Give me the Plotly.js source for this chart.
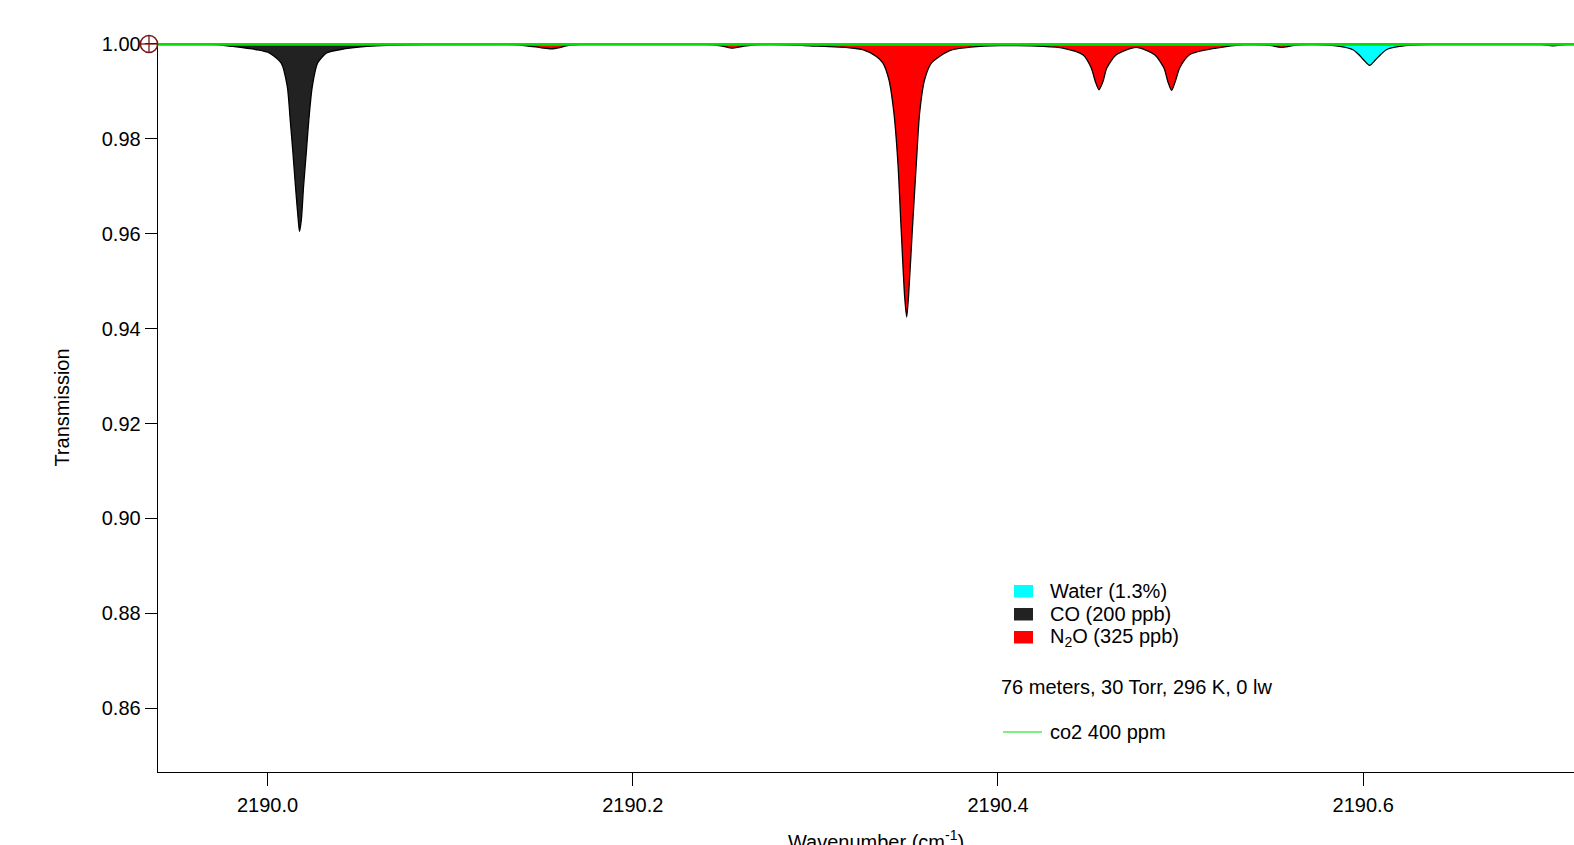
<!DOCTYPE html>
<html>
<head>
<meta charset="utf-8">
<script src="https://cdn.plot.ly/plotly-3.0.1.min.js"></script>
<style>
html, body { margin:0; padding:0; overflow:hidden; background:#fff; }
#chart { width:1600px; height:870px; }
</style>
</head>
<body>
<div id="chart"></div>
<script>
// ---- Data (wavenumber in cm^-1, transmission) ----
const coX = [2189.9400, 2189.9700, 2189.9808, 2189.9940, 2190.0011, 2190.0075, 2190.0108, 2190.0124,
  2190.0139, 2190.0153, 2190.0168, 2190.0175, 2190.0185, 2190.0197, 2190.0212, 2190.0226, 2190.0245,
  2190.0274, 2190.0323, 2190.0394, 2190.0542, 2190.0850, 2190.6950, 2190.7039, 2190.7130, 2190.7264];
const coY = [1.0, 0.99990, 0.99947, 0.99878, 0.99808, 0.99597, 0.99104, 0.98403,
  0.97707, 0.96991, 0.96296, 0.96048, 0.96296, 0.96991, 0.97707, 0.98403, 0.99104,
  0.99597, 0.99808, 0.99878, 0.99947, 0.99985, 0.99995, 0.99962, 0.99995, 1.0];

const n2oX = [2189.9400, 2190.1300, 2190.1418, 2190.1500, 2190.1554, 2190.1600, 2190.1637, 2190.1750,
  2190.2400, 2190.2481, 2190.2539, 2190.2623, 2190.2750, 2190.2968, 2190.3187, 2190.3259, 2190.3334,
  2190.3370, 2190.3403, 2190.3430, 2190.3452, 2190.3470, 2190.3489, 2190.3500, 2190.3510, 2190.3531,
  2190.3553, 2190.3571, 2190.3598, 2190.3635, 2190.3680, 2190.3751, 2190.3850, 2190.4009, 2190.4250,
  2190.4355, 2190.4465, 2190.4511, 2190.4533, 2190.4553, 2190.4575, 2190.4596, 2190.4648, 2190.4757,
  2190.4858, 2190.4909, 2190.4930, 2190.4951, 2190.4971, 2190.4995, 2190.5049, 2190.5196, 2190.5350,
  2190.5488, 2190.5551, 2190.5625, 2190.5750, 2190.7264];
const n2oY = [1.0, 0.99995, 0.99962, 0.99920, 0.99899, 0.99925, 0.99962, 0.99995,
  0.99993, 0.99962, 0.99914, 0.99962, 0.99992, 0.99960, 0.99920, 0.99878, 0.99737,
  0.99597, 0.99246, 0.98550, 0.97496, 0.96084, 0.94672, 0.94244, 0.94672, 0.96084,
  0.97496, 0.98550, 0.99246, 0.99597, 0.99737, 0.99878, 0.99935, 0.99965, 0.99950,
  0.99914, 0.99772, 0.99492, 0.99210, 0.99035, 0.99210, 0.99492, 0.99772, 0.99926,
  0.99772, 0.99492, 0.99210, 0.99020, 0.99210, 0.99492, 0.99772, 0.99914, 0.99985,
  0.99970, 0.99926, 0.99970, 0.99995, 1.0];

const h2oX = [2189.9400, 2190.5700, 2190.5871, 2190.5944, 2190.5977, 2190.6002, 2190.6035, 2190.6068,
  2190.6095, 2190.6127, 2190.6199, 2190.6400, 2190.7264];
const h2oY = [1.0, 0.99995, 0.99947, 0.99878, 0.99772, 0.99667, 0.99547, 0.99667,
  0.99772, 0.99878, 0.99947, 0.99995, 1.0];

const co2X = [2189.9400, 2190.7264];
const co2Y = [0.99990, 0.99990];

const yTicks = [0.86, 0.88, 0.90, 0.92, 0.94, 0.96, 0.98, 1.00];
const xTicks = [2190.0, 2190.2, 2190.4, 2190.6];

const legendNames = ['Water (1.3%)', 'CO (200 ppb)', 'N<sub>2</sub>O (325 ppb)'];
const legendColors = ['#00ffff', '#222222', '#ff0000'];
const infoText = '76 meters, 30 Torr, 296 K, 0 lw';
const co2Name = 'co2 400 ppm';

// ---- Traces ----
const FONT = 'Liberation Sans, Arial, Helvetica, sans-serif';
const FS = 20;
function fillTrace(x, y, color) {
  return {
    x: x, y: y, type: 'scatter', mode: 'lines', fill: 'toself', fillcolor: color,
    line: { color: '#000000', width: 1.3, shape: 'spline', smoothing: 0.7 },
    hoverinfo: 'x+y', showlegend: false
  };
}
const traces = [
  fillTrace(n2oX, n2oY, legendColors[2]),
  fillTrace(coX, coY, legendColors[1]),
  fillTrace(h2oX, h2oY, legendColors[0]),
  { x: co2X, y: co2Y, type: 'scatter', mode: 'lines', line: { color: '#00e000', width: 2.6 }, showlegend: false }
];

// ---- Legend and cursor (drawn as annotations/shapes) ----
const W = 1436, H = 729, L = 158, B = 772; // plot area in px, for paper conversion
const px = v => (v - L) / W;
const py = v => (B - v) / H;
const shapes = [];
const annotations = [];
const rowY = [591, 614, 637];
for (let i = 0; i < 3; i++) {
  shapes.push({ type: 'rect', xref: 'paper', yref: 'paper', x0: px(1014), x1: px(1033),
    y0: py(rowY[i] - 6), y1: py(rowY[i] + 6.5), fillcolor: legendColors[i], line: { width: 0 } });
  annotations.push({ xref: 'paper', yref: 'paper', x: px(1048), y: py(rowY[i]), text: legendNames[i],
    showarrow: false, xanchor: 'left', yanchor: 'middle', font: { family: FONT, size: FS, color: '#000' } });
}
annotations.push({ xref: 'paper', yref: 'paper', x: px(999), y: py(687), text: infoText,
  showarrow: false, xanchor: 'left', yanchor: 'middle', font: { family: FONT, size: FS, color: '#000' } });
shapes.push({ type: 'line', xref: 'paper', yref: 'paper', x0: px(1003), x1: px(1042), y0: py(732), y1: py(732),
  line: { color: '#00e000', width: 1.2 } });
annotations.push({ xref: 'paper', yref: 'paper', x: px(1048), y: py(732), text: co2Name,
  showarrow: false, xanchor: 'left', yanchor: 'middle', font: { family: FONT, size: FS, color: '#000' } });

// cursor mark (circle with cross) at the top-left corner
const cx = 149, cy = 44, cr = 8.6, cc = '#7a1515';
shapes.push({ type: 'circle', xref: 'paper', yref: 'paper', x0: px(cx - cr), x1: px(cx + cr),
  y0: py(cy + cr), y1: py(cy - cr), line: { color: cc, width: 1.5 } });
shapes.push({ type: 'line', xref: 'paper', yref: 'paper', x0: px(cx - cr), x1: px(cx + cr),
  y0: py(cy), y1: py(cy), line: { color: cc, width: 1.3 } });
shapes.push({ type: 'line', xref: 'paper', yref: 'paper', x0: px(cx), x1: px(cx),
  y0: py(cy + cr), y1: py(cy - cr), line: { color: cc, width: 1.3 } });

const layout = {
  width: 1600, height: 870,
  margin: { l: 158, r: 6, t: 43, b: 98 },
  paper_bgcolor: '#ffffff', plot_bgcolor: '#ffffff',
  font: { family: FONT, size: FS, color: '#000' },
  showlegend: false,
  xaxis: {
    range: [2189.9400, 2190.7264], showgrid: false, zeroline: false,
    showline: true, linecolor: '#000', linewidth: 1.3, mirror: false,
    ticks: 'outside', ticklen: 13, tickwidth: 1, tickcolor: '#000', ticklabelstandoff: 2,
    tickvals: xTicks, ticktext: xTicks.map(v => v.toFixed(1)),
    tickfont: { family: FONT, size: FS, color: '#000' },
    title: { text: 'Wavenumber (cm<sup>-1</sup>)', font: { family: FONT, size: FS, color: '#000' }, standoff: 19 }
  },
  yaxis: {
    range: [0.84656, 1.0002], showgrid: false, zeroline: false,
    showline: true, linecolor: '#000', linewidth: 1.3, mirror: false,
    ticks: 'outside', ticklen: 12, tickwidth: 1, tickcolor: '#000',
    tickvals: yTicks, ticktext: yTicks.map(v => v.toFixed(2)),
    tickfont: { family: FONT, size: FS, color: '#000' },
    title: { text: 'Transmission', font: { family: FONT, size: FS, color: '#000' }, standoff: 26 }
  },
  shapes: shapes,
  annotations: annotations
};

Plotly.newPlot('chart', traces, layout, { displayModeBar: false, staticPlot: true });
</script>
</body>
</html>
